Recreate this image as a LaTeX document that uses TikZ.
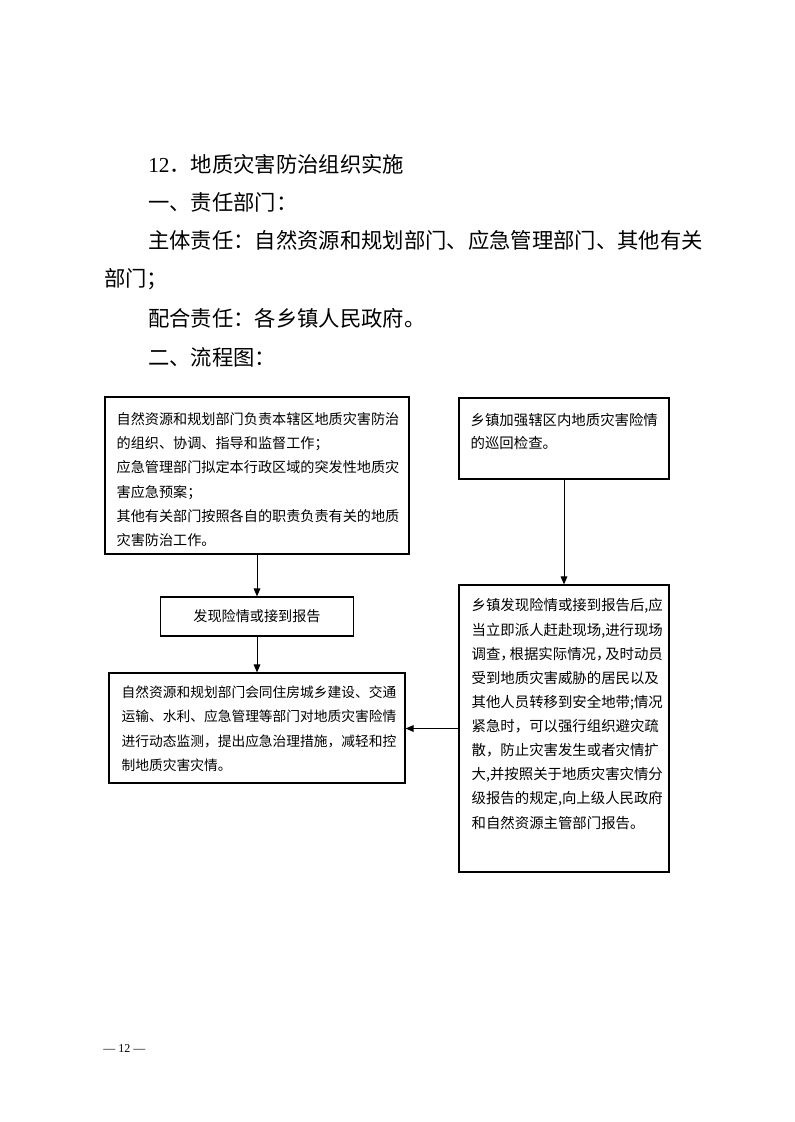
\documentclass[tikz,border=0pt]{standalone}
\usepackage{fontspec}
\setmainfont{Liberation Serif}
\newfontfamily\cjk{Noto Sans CJK SC}
\newfontfamily\cjkhalt[RawFeature=+halt]{Noto Sans CJK SC}
\usetikzlibrary{arrows.meta,positioning}

\newcommand{\hcomma}{{\cjkhalt ，}\kern1.5pt}

\begin{document}
\begin{tikzpicture}[x=0.75pt, y=-0.75pt,
    flowbox/.style={draw, line width=0.9pt, inner sep=0pt},
    boxtext/.style={inner sep=0pt, align=left, anchor=north west,
      font=\cjk\fontsize{10.6}{18.1}\selectfont},
    headtext/.style={inner sep=0pt, anchor=west, font=\cjk\fontsize{16}{16}\selectfont},
    flowarrow/.style={-{Triangle[length=6pt,width=5pt]}, line width=0.75pt}]
    \useasboundingbox (0,0) rectangle (794,1122);

    % Headings above the chart
    \node[headtext] (title) at (148,164) {{\rmfamily 12}．地质灾害防治组织实施};
    \node[headtext] (dutyhead) at (148,202) {一、责任部门：};
    \node[headtext] (mainduty) at (148,240) {主体责任：自然资源和规划部门、应急管理部门、其他有关};
    \node[headtext] (mainduty2) at (104,279) {部门；};
    \node[headtext] (coduty) at (148,318) {配合责任：各乡镇人民政府。};
    \node[headtext] (charthead) at (148,357) {二、流程图：};

    % Left column
    \node[flowbox, minimum width=228pt, minimum height=117.75pt] (respA) at (257,475.5) {};
    \node[boxtext] (txtA) at ([shift={(12,16)}]respA.north west)
      {自然资源和规划部门负责本辖区地质灾害防治\\的组织、协调、指导和监督工作；\\应急管理部门拟定本行政区域的突发性地质灾\\害应急预案；\\其他有关部门按照各自的职责负责有关的地质\\灾害防治工作。};
    \node[flowbox, minimum width=144.75pt, minimum height=29.25pt,
      font=\cjk\fontsize{10.6}{12}\selectfont] (found) at (257,616.5) {发现险情或接到报告};
    \node[flowbox, minimum width=222pt, minimum height=82.5pt] (respE) at (257,728) {};
    \node[boxtext, font=\cjk\fontsize{10.3}{18.4}\selectfont] (txtE) at ([shift={(13,13)}]respE.north west)
      {自然资源和规划部门会同住房城乡建设、交通\\运输、水利、应急管理等部门对地质灾害险情\\进行动态监测，提出应急治理措施，减轻和控\\制地质灾害灾情。};

    % Right column
    \node[flowbox, minimum width=157.5pt, minimum height=60.75pt] (patrol) at (564,438.5) {};
    \node[boxtext, font=\cjk\fontsize{10.8}{17}\selectfont] (txtB) at ([shift={(12,16)}]patrol.north west)
      {乡镇加强辖区内地质灾害险情\\的巡回检查。};
    \node[flowbox, minimum width=157.5pt, minimum height=215.25pt] (townD) at (564,728.5) {};
    \node[boxtext, font=\cjk\fontsize{10.8}{18.1}\selectfont] (txtD) at ([shift={(13,14)}]townD.north west)
      {乡镇发现险情或接到报告后,应\\当立即派人赶赴现场,进行现场\\调查\hcomma 根据实际情况\hcomma 及时动员\\受到地质灾害威胁的居民以及\\其他人员转移到安全地带;情况\\紧急时，可以强行组织避灾疏\\散，防止灾害发生或者灾情扩\\大,并按照关于地质灾害灾情分\\级报告的规定,向上级人民政府\\和自然资源主管部门报告。};

    % Connectors
    \draw[flowarrow] (respA.south) -- (found.north);
    \draw[flowarrow] (found.south) -- (respE.north);
    \draw[flowarrow] (patrol.south) -- (townD.north);
    \draw[flowarrow] (townD.west) -- (townD.west -| respE.east);

    % Page number
    \node[inner sep=0pt, anchor=west, font=\fontsize{9}{9}\selectfont] (pagenum) at (103,1049) {— 12 —};
\end{tikzpicture}
\end{document}
